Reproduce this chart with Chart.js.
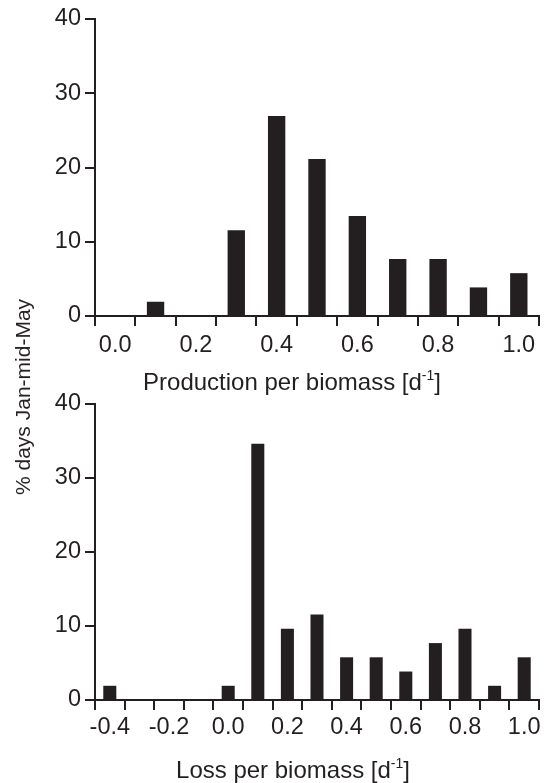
<!DOCTYPE html>
<html>
<head>
<meta charset="utf-8">
<script src="https://cdn.jsdelivr.net/npm/chart.js@4"></script>
<style>
  html, body { margin: 0; padding: 0; background: #fff; }
  body { width: 544px; height: 783px; position: relative; overflow: hidden; font-family: "Liberation Sans", Arial, sans-serif; }
  .box { position: absolute; left: 0; width: 544px; }
  #ytitle { position: absolute; left: 23px; top: 397px; transform: translate(-50%, -50%) rotate(-90deg); white-space: nowrap; font-size: 21px; color: #231f20; font-family: "Liberation Sans", Arial, sans-serif; }
</style>
</head>
<body>
<div class="box" style="top:0;height:400px"><canvas id="c1"></canvas></div>
<div class="box" style="top:380px;height:403px"><canvas id="c2"></canvas></div>
<div id="ytitle">% days Jan-mid-May</div>
<script>
// ---- data ----
const productionBins = ['0.0','0.1','0.2','0.3','0.4','0.5','0.6','0.7','0.8','0.9','1.0'];
const productionPercent = [0, 1.92, 0, 11.54, 26.92, 21.15, 13.46, 7.69, 7.69, 3.85, 5.77];
const lossBins = ['-0.4','-0.3','-0.2','-0.1','0.0','0.1','0.2','0.3','0.4','0.5','0.6','0.7','0.8','0.9','1.0'];
const lossPercent = [1.92, 0, 0, 0, 1.92, 34.62, 9.62, 11.54, 5.77, 5.77, 3.85, 7.69, 9.62, 1.92, 5.77];
const yTicks = [0, 10, 20, 30, 40];
const productionTitle = ['Production per biomass [d', '-1', ']'];
const lossTitle = ['Loss per biomass [d', '-1', ']'];

const INK = '#231f20';
const FONT = '"Liberation Sans", Arial, Helvetica, sans-serif';

function titlePlugin(parts, cx, cy, size) {
  return {
    id: 'xtitle',
    afterDraw(chart) {
      const ctx = chart.ctx;
      ctx.save();
      ctx.fillStyle = INK;
      ctx.textBaseline = 'alphabetic';
      const big = size + 'px ' + FONT;
      const small = Math.round(size * 0.58) + 'px ' + FONT;
      ctx.font = big; const w1 = ctx.measureText(parts[0]).width; const w3 = ctx.measureText(parts[2]).width;
      ctx.font = small; const w2 = ctx.measureText(parts[1]).width;
      let x = cx - (w1 + w2 + w3) / 2;
      ctx.font = big; ctx.textAlign = 'left';
      ctx.fillText(parts[0], x, cy); x += w1;
      ctx.font = small; ctx.fillText(parts[1], x, cy - size * 0.42); x += w2;
      ctx.font = big; ctx.fillText(parts[2], x, cy);
      ctx.restore();
    }
  };
}

function makeChart(id, labels, values, barPct, padTop, xHeight, labelPad, title, tx, ty) {
  return new Chart(document.getElementById(id), {
    type: 'bar',
    data: { labels: labels, datasets: [{ data: values, backgroundColor: INK, borderWidth: 0, barPercentage: barPct, categoryPercentage: 1 }] },
    options: {
      responsive: true, maintainAspectRatio: false, animation: false,
      layout: { padding: { top: padTop, right: 5, left: 0, bottom: 0 } },
      plugins: { legend: { display: false }, tooltip: { enabled: false } },
      scales: {
        x: {
          type: 'category', offset: true,
          grid: { offset: true, drawOnChartArea: false, drawTicks: true, tickLength: 10, color: INK, lineWidth: 2 },
          border: { display: true, color: INK, width: 2 },
          ticks: { autoSkip: false, maxRotation: 0, padding: labelPad, color: INK, font: { family: FONT, size: 23.5 },
                   callback: (v, i) => (i % 2 === 0 ? labels[i] : '') },
          afterFit: s => { s.height = xHeight; }
        },
        y: {
          min: 0, max: 40,
          afterBuildTicks: s => { s.ticks = yTicks.map(v => ({ value: v })); },
          grid: { drawOnChartArea: false, drawTicks: true, tickLength: 10, color: INK, lineWidth: 2 },
          border: { display: true, color: INK, width: 2 },
          ticks: { padding: 4, color: INK, font: { family: FONT, size: 23.5 } },
          afterFit: s => { s.width = 95; }
        }
      }
    },
    plugins: [titlePlugin(title, tx, ty, 24)]
  });
}

makeChart('c1', productionBins, productionPercent, 0.43, 19, 84, 5, productionTitle, 292, 390);
makeChart('c2', lossBins, lossPercent, 0.44, 24, 83, 3, lossTitle, 293, 398);
</script>
</body>
</html>
